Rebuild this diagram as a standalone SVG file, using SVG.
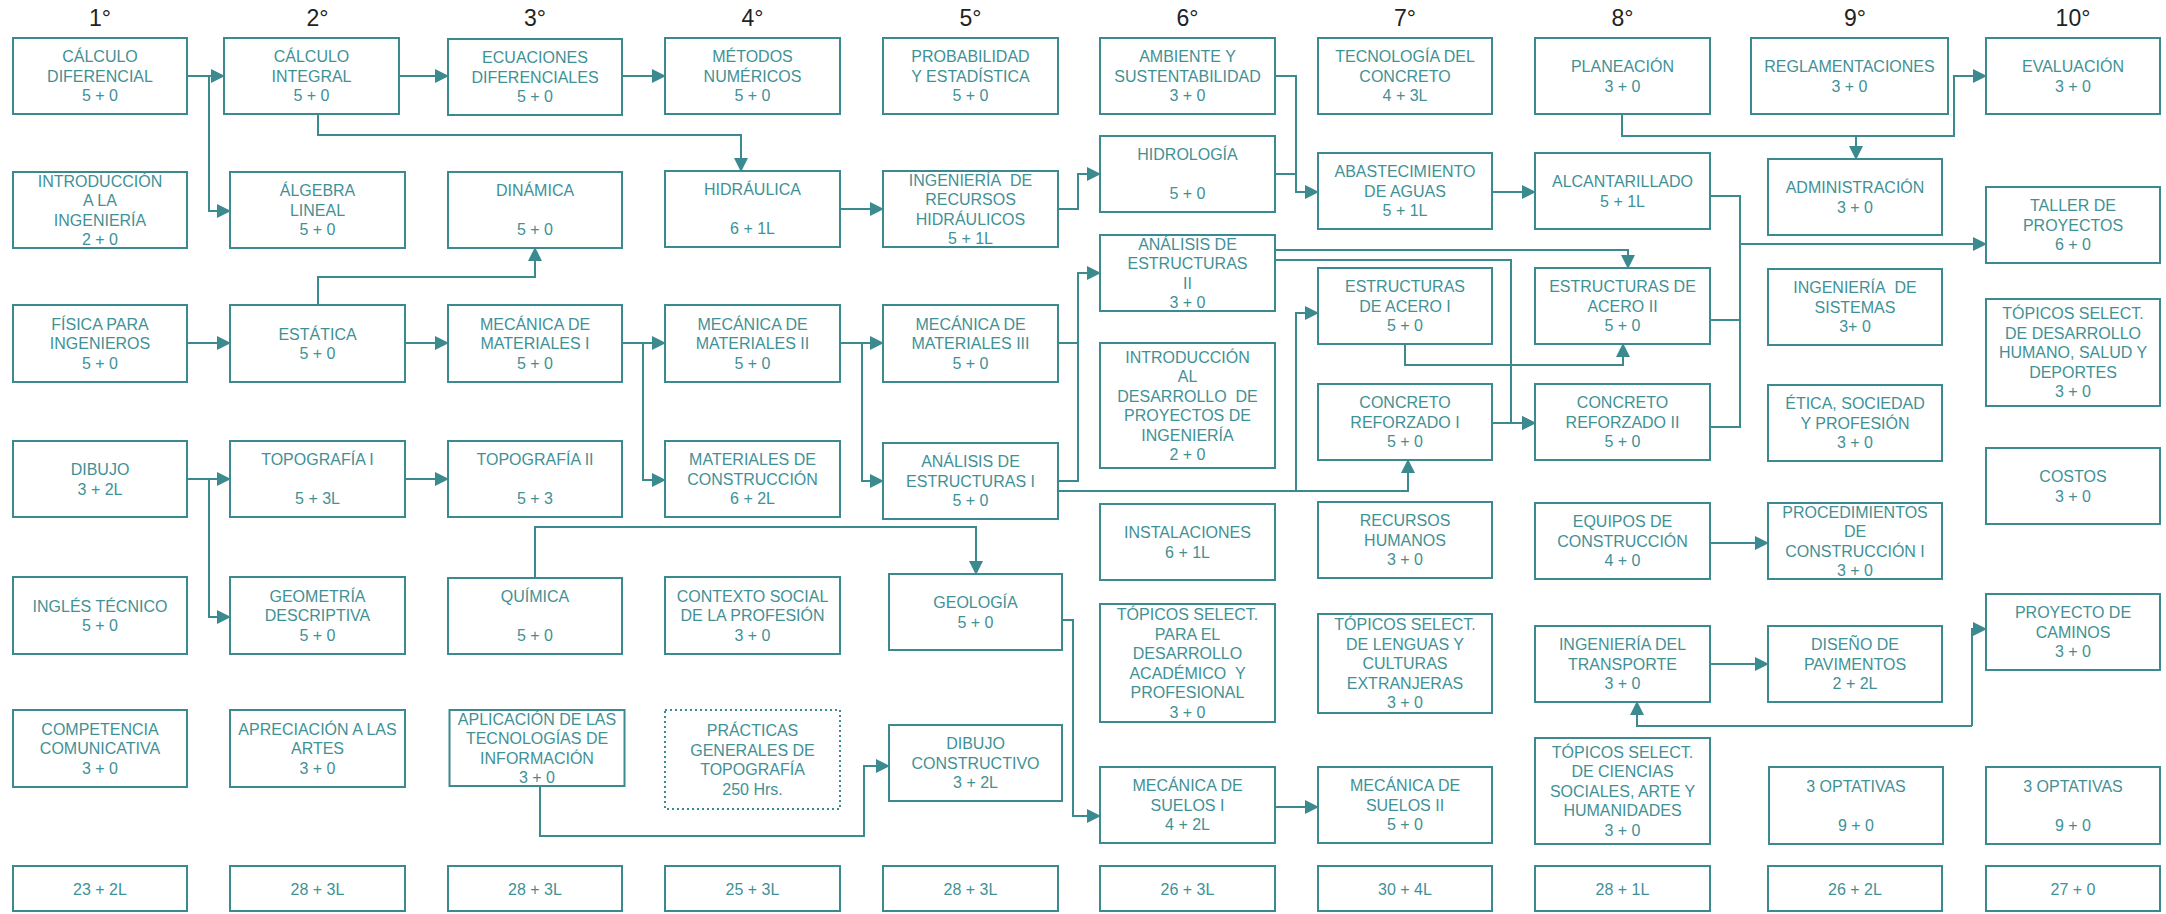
<svg xmlns="http://www.w3.org/2000/svg" width="2166" height="914" viewBox="0 0 2166 914">
<style>
.b{fill:#fff;stroke:#3b8a8f;stroke-width:2}
.d{stroke-dasharray:2 3}
.t{font-family:"Liberation Sans",Arial,sans-serif;font-size:16px;fill:#3f9196;text-anchor:middle}
.h{font-family:"Liberation Sans",Arial,sans-serif;font-size:23px;fill:#222;text-anchor:middle}
.c{fill:none;stroke:#3b8a8f;stroke-width:2}
.a{marker-end:url(#ar)}
</style>
<defs>
<marker id="ar" markerWidth="14" markerHeight="14" refX="13" refY="7" orient="auto" markerUnits="userSpaceOnUse"><path d="M0,0 L14,7 L0,14 z" fill="#3b8a8f"/></marker>
</defs>
<rect width="2166" height="914" fill="#fff"/>
<g id="headers">
<text class="h" x="100" y="26">1°</text>
<text class="h" x="317.5" y="26">2°</text>
<text class="h" x="535" y="26">3°</text>
<text class="h" x="752.5" y="26">4°</text>
<text class="h" x="970.5" y="26">5°</text>
<text class="h" x="1187.5" y="26">6°</text>
<text class="h" x="1405" y="26">7°</text>
<text class="h" x="1622.5" y="26">8°</text>
<text class="h" x="1855" y="26">9°</text>
<text class="h" x="2073" y="26">10°</text>
</g>
<g id="connectors">
<path class="c a" d="M187,76 H224"/>
<path class="c a" d="M209,76 V211 H230"/>
<path class="c a" d="M398,76 H448"/>
<path class="c a" d="M622,76 H665"/>
<path class="c a" d="M318,114 V135 H741 V171"/>
<path class="c a" d="M318,305 V277 H535 V248"/>
<path class="c a" d="M187,343 H230"/>
<path class="c a" d="M405,343 H448"/>
<path class="c a" d="M622,343 H665"/>
<path class="c a" d="M643,343 V480 H665"/>
<path class="c a" d="M840,343 H883"/>
<path class="c a" d="M862,343 V481 H883"/>
<path class="c" d="M1058,343 H1078"/>
<path class="c a" d="M1058,481 H1078 V273 H1100"/>
<path class="c a" d="M1058,491 H1408 V460"/>
<path class="c a" d="M1296,491 V313 H1318"/>
<path class="c a" d="M840,209 H883"/>
<path class="c a" d="M1058,209 H1078 V174 H1100"/>
<path class="c a" d="M1275,76 H1296 V192 H1318"/>
<path class="c" d="M1275,174 H1296"/>
<path class="c a" d="M1492,192 H1535"/>
<path class="c" d="M1710,196 H1740 V427 H1710"/>
<path class="c" d="M1710,320 H1740"/>
<path class="c a" d="M1740,244 H1986"/>
<path class="c a" d="M1275,250 H1628 V268"/>
<path class="c a" d="M1275,260 H1511 V423 H1535"/>
<path class="c a" d="M1492,423 H1535"/>
<path class="c a" d="M1405,344 V365 H1623 V344"/>
<path class="c a" d="M1622,114 V136 H1954 V76 H1986"/>
<path class="c a" d="M1856,136 V159"/>
<path class="c a" d="M1710,543 H1768"/>
<path class="c a" d="M1710,664 H1768"/>
<path class="c a" d="M1972,726 H1637 V702"/>
<path class="c a" d="M1972,726 V629 H1986"/>
<path class="c a" d="M535,578 V527 H976 V574"/>
<path class="c a" d="M1062,620 H1073 V816 H1100"/>
<path class="c a" d="M1275,807 H1318"/>
<path class="c a" d="M540,786 V836 H864 V766 H889"/>
<path class="c a" d="M187,479 H230"/>
<path class="c a" d="M209,479 V617 H230"/>
<path class="c a" d="M405,479 H448"/>
</g>
<g id="n_calculo_diferencial"><rect class="b" x="13" y="38" width="174" height="76"/><text class="t" y="62.3"><tspan x="100">CÁLCULO</tspan><tspan x="100" dy="19.5">DIFERENCIAL</tspan><tspan x="100" dy="19.5">5 + 0</tspan></text></g>
<g id="n_intro_ingenieria"><rect class="b" x="13" y="172" width="174" height="76"/><text class="t" y="186.5"><tspan x="100">INTRODUCCIÓN</tspan><tspan x="100" dy="19.5">A LA</tspan><tspan x="100" dy="19.5">INGENIERÍA</tspan><tspan x="100" dy="19.5">2 + 0</tspan></text></g>
<g id="n_fisica"><rect class="b" x="13" y="305" width="174" height="77"/><text class="t" y="329.8"><tspan x="100">FÍSICA PARA</tspan><tspan x="100" dy="19.5">INGENIEROS</tspan><tspan x="100" dy="19.5">5 + 0</tspan></text></g>
<g id="n_dibujo"><rect class="b" x="13" y="441" width="174" height="76"/><text class="t" y="475"><tspan x="100">DIBUJO</tspan><tspan x="100" dy="19.5">3 + 2L</tspan></text></g>
<g id="n_ingles"><rect class="b" x="13" y="577" width="174" height="77"/><text class="t" y="611.5"><tspan x="100">INGLÉS TÉCNICO</tspan><tspan x="100" dy="19.5">5 + 0</tspan></text></g>
<g id="n_competencia"><rect class="b" x="13" y="710" width="174" height="77"/><text class="t" y="734.8"><tspan x="100">COMPETENCIA</tspan><tspan x="100" dy="19.5">COMUNICATIVA</tspan><tspan x="100" dy="19.5">3 + 0</tspan></text></g>

<g id="n_calculo_integral"><rect class="b" x="224" y="38" width="175" height="76"/><text class="t" y="62.3"><tspan x="311.5">CÁLCULO</tspan><tspan x="311.5" dy="19.5">INTEGRAL</tspan><tspan x="311.5" dy="19.5">5 + 0</tspan></text></g>
<g id="n_algebra"><rect class="b" x="230" y="172" width="175" height="76"/><text class="t" y="196.3"><tspan x="317.5">ÁLGEBRA</tspan><tspan x="317.5" dy="19.5">LINEAL</tspan><tspan x="317.5" dy="19.5">5 + 0</tspan></text></g>
<g id="n_estatica"><rect class="b" x="230" y="305" width="175" height="77"/><text class="t" y="339.5"><tspan x="317.5">ESTÁTICA</tspan><tspan x="317.5" dy="19.5">5 + 0</tspan></text></g>
<g id="n_topografia1"><rect class="b" x="230" y="441" width="175" height="76"/><text class="t" y="465.3"><tspan x="317.5">TOPOGRAFÍA I</tspan><tspan x="317.5" dy="39">5 + 3L</tspan></text></g>
<g id="n_geometria"><rect class="b" x="230" y="577" width="175" height="77"/><text class="t" y="601.8"><tspan x="317.5">GEOMETRÍA</tspan><tspan x="317.5" dy="19.5">DESCRIPTIVA</tspan><tspan x="317.5" dy="19.5">5 + 0</tspan></text></g>
<g id="n_apreciacion"><rect class="b" x="230" y="710" width="175" height="77"/><text class="t" y="734.8"><tspan x="317.5">APRECIACIÓN A LAS</tspan><tspan x="317.5" dy="19.5">ARTES</tspan><tspan x="317.5" dy="19.5">3 + 0</tspan></text></g>

<g id="n_ecuaciones"><rect class="b" x="448" y="39" width="174" height="76"/><text class="t" y="63.3"><tspan x="535">ECUACIONES</tspan><tspan x="535" dy="19.5">DIFERENCIALES</tspan><tspan x="535" dy="19.5">5 + 0</tspan></text></g>
<g id="n_dinamica"><rect class="b" x="448" y="172" width="174" height="76"/><text class="t" y="196.3"><tspan x="535">DINÁMICA</tspan><tspan x="535" dy="39">5 + 0</tspan></text></g>
<g id="n_mecanica1"><rect class="b" x="448" y="305" width="174" height="77"/><text class="t" y="329.8"><tspan x="535">MECÁNICA DE</tspan><tspan x="535" dy="19.5">MATERIALES I</tspan><tspan x="535" dy="19.5">5 + 0</tspan></text></g>
<g id="n_topografia2"><rect class="b" x="448" y="441" width="174" height="76"/><text class="t" y="465.3"><tspan x="535">TOPOGRAFÍA II</tspan><tspan x="535" dy="39">5 + 3</tspan></text></g>
<g id="n_quimica"><rect class="b" x="448" y="578" width="174" height="76"/><text class="t" y="602.3"><tspan x="535">QUÍMICA</tspan><tspan x="535" dy="39">5 + 0</tspan></text></g>
<g id="n_aplicacion"><rect class="b" x="449.5" y="710" width="175" height="76"/><text class="t" y="724.5"><tspan x="537">APLICACIÓN DE LAS</tspan><tspan x="537" dy="19.5">TECNOLOGÍAS DE</tspan><tspan x="537" dy="19.5">INFORMACIÓN</tspan><tspan x="537" dy="19.5">3 + 0</tspan></text></g>

<g id="n_metodos"><rect class="b" x="665" y="38" width="175" height="76"/><text class="t" y="62.3"><tspan x="752.5">MÉTODOS</tspan><tspan x="752.5" dy="19.5">NUMÉRICOS</tspan><tspan x="752.5" dy="19.5">5 + 0</tspan></text></g>
<g id="n_hidraulica"><rect class="b" x="665" y="171" width="175" height="76"/><text class="t" y="195.3"><tspan x="752.5">HIDRÁULICA</tspan><tspan x="752.5" dy="39">6 + 1L</tspan></text></g>
<g id="n_mecanica2"><rect class="b" x="665" y="305" width="175" height="77"/><text class="t" y="329.8"><tspan x="752.5">MECÁNICA DE</tspan><tspan x="752.5" dy="19.5">MATERIALES II</tspan><tspan x="752.5" dy="19.5">5 + 0</tspan></text></g>
<g id="n_materiales"><rect class="b" x="665" y="441" width="175" height="76"/><text class="t" y="465.3"><tspan x="752.5">MATERIALES DE</tspan><tspan x="752.5" dy="19.5">CONSTRUCCIÓN</tspan><tspan x="752.5" dy="19.5">6 + 2L</tspan></text></g>
<g id="n_contexto"><rect class="b" x="665" y="577" width="175" height="77"/><text class="t" y="601.8"><tspan x="752.5">CONTEXTO SOCIAL</tspan><tspan x="752.5" dy="19.5">DE LA PROFESIÓN</tspan><tspan x="752.5" dy="19.5">3 + 0</tspan></text></g>
<g id="n_practicas"><rect class="b d" x="665" y="710" width="175" height="99"/><text class="t" y="736"><tspan x="752.5">PRÁCTICAS</tspan><tspan x="752.5" dy="19.5">GENERALES DE</tspan><tspan x="752.5" dy="19.5">TOPOGRAFÍA</tspan><tspan x="752.5" dy="19.5">250 Hrs.</tspan></text></g>

<g id="n_probabilidad"><rect class="b" x="883" y="38" width="175" height="76"/><text class="t" y="62.3"><tspan x="970.5">PROBABILIDAD</tspan><tspan x="970.5" dy="19.5">Y ESTADÍSTICA</tspan><tspan x="970.5" dy="19.5">5 + 0</tspan></text></g>
<g id="n_recursos_hidraulicos"><rect class="b" x="883" y="171" width="175" height="76"/><text class="t" y="185.5"><tspan x="970.5">INGENIERÍA&#160; DE</tspan><tspan x="970.5" dy="19.5">RECURSOS</tspan><tspan x="970.5" dy="19.5">HIDRÁULICOS</tspan><tspan x="970.5" dy="19.5">5 + 1L</tspan></text></g>
<g id="n_mecanica3"><rect class="b" x="883" y="305" width="175" height="77"/><text class="t" y="329.8"><tspan x="970.5">MECÁNICA DE</tspan><tspan x="970.5" dy="19.5">MATERIALES III</tspan><tspan x="970.5" dy="19.5">5 + 0</tspan></text></g>
<g id="n_analisis1"><rect class="b" x="883" y="443" width="175" height="76"/><text class="t" y="467.3"><tspan x="970.5">ANÁLISIS DE</tspan><tspan x="970.5" dy="19.5">ESTRUCTURAS I</tspan><tspan x="970.5" dy="19.5">5 + 0</tspan></text></g>
<g id="n_geologia"><rect class="b" x="889" y="574" width="173" height="76"/><text class="t" y="608"><tspan x="975.5">GEOLOGÍA</tspan><tspan x="975.5" dy="19.5">5 + 0</tspan></text></g>
<g id="n_dibujo_constructivo"><rect class="b" x="889" y="725" width="173" height="76"/><text class="t" y="749.3"><tspan x="975.5">DIBUJO</tspan><tspan x="975.5" dy="19.5">CONSTRUCTIVO</tspan><tspan x="975.5" dy="19.5">3 + 2L</tspan></text></g>

<g id="n_ambiente"><rect class="b" x="1100" y="38" width="175" height="76"/><text class="t" y="62.3"><tspan x="1187.5">AMBIENTE Y</tspan><tspan x="1187.5" dy="19.5">SUSTENTABILIDAD</tspan><tspan x="1187.5" dy="19.5">3 + 0</tspan></text></g>
<g id="n_hidrologia"><rect class="b" x="1100" y="136" width="175" height="76"/><text class="t" y="160.3"><tspan x="1187.5">HIDROLOGÍA</tspan><tspan x="1187.5" dy="39">5 + 0</tspan></text></g>
<g id="n_analisis2"><rect class="b" x="1100" y="235" width="175" height="76"/><text class="t" y="249.5"><tspan x="1187.5">ANÁLISIS DE</tspan><tspan x="1187.5" dy="19.5">ESTRUCTURAS</tspan><tspan x="1187.5" dy="19.5">II</tspan><tspan x="1187.5" dy="19.5">3 + 0</tspan></text></g>
<g id="n_intro_desarrollo"><rect class="b" x="1100" y="343" width="175" height="125"/><text class="t" y="362.5"><tspan x="1187.5">INTRODUCCIÓN</tspan><tspan x="1187.5" dy="19.5">AL</tspan><tspan x="1187.5" dy="19.5">DESARROLLO&#160; DE</tspan><tspan x="1187.5" dy="19.5">PROYECTOS DE</tspan><tspan x="1187.5" dy="19.5">INGENIERÍA</tspan><tspan x="1187.5" dy="19.5">2 + 0</tspan></text></g>
<g id="n_instalaciones"><rect class="b" x="1100" y="504" width="175" height="76"/><text class="t" y="538"><tspan x="1187.5">INSTALACIONES</tspan><tspan x="1187.5" dy="19.5">6 + 1L</tspan></text></g>
<g id="n_topicos_academico"><rect class="b" x="1100" y="604" width="175" height="118"/><text class="t" y="620"><tspan x="1187.5">TÓPICOS SELECT.</tspan><tspan x="1187.5" dy="19.5">PARA EL</tspan><tspan x="1187.5" dy="19.5">DESARROLLO</tspan><tspan x="1187.5" dy="19.5">ACADÉMICO&#160; Y</tspan><tspan x="1187.5" dy="19.5">PROFESIONAL</tspan><tspan x="1187.5" dy="19.5">3 + 0</tspan></text></g>
<g id="n_suelos1"><rect class="b" x="1100" y="767" width="175" height="76"/><text class="t" y="791.3"><tspan x="1187.5">MECÁNICA DE</tspan><tspan x="1187.5" dy="19.5">SUELOS I</tspan><tspan x="1187.5" dy="19.5">4 + 2L</tspan></text></g>

<g id="n_tecnologia"><rect class="b" x="1318" y="38" width="174" height="76"/><text class="t" y="62.3"><tspan x="1405">TECNOLOGÍA DEL</tspan><tspan x="1405" dy="19.5">CONCRETO</tspan><tspan x="1405" dy="19.5">4 + 3L</tspan></text></g>
<g id="n_abastecimiento"><rect class="b" x="1318" y="153" width="174" height="76"/><text class="t" y="177.3"><tspan x="1405">ABASTECIMIENTO</tspan><tspan x="1405" dy="19.5">DE AGUAS</tspan><tspan x="1405" dy="19.5">5 + 1L</tspan></text></g>
<g id="n_acero1"><rect class="b" x="1318" y="268" width="174" height="76"/><text class="t" y="292.3"><tspan x="1405">ESTRUCTURAS</tspan><tspan x="1405" dy="19.5">DE ACERO I</tspan><tspan x="1405" dy="19.5">5 + 0</tspan></text></g>
<g id="n_concreto1"><rect class="b" x="1318" y="384" width="174" height="76"/><text class="t" y="408.3"><tspan x="1405">CONCRETO</tspan><tspan x="1405" dy="19.5">REFORZADO I</tspan><tspan x="1405" dy="19.5">5 + 0</tspan></text></g>
<g id="n_recursos_humanos"><rect class="b" x="1318" y="502" width="174" height="76"/><text class="t" y="526.3"><tspan x="1405">RECURSOS</tspan><tspan x="1405" dy="19.5">HUMANOS</tspan><tspan x="1405" dy="19.5">3 + 0</tspan></text></g>
<g id="n_topicos_lenguas"><rect class="b" x="1318" y="614" width="174" height="99"/><text class="t" y="630.3"><tspan x="1405">TÓPICOS SELECT.</tspan><tspan x="1405" dy="19.5">DE LENGUAS Y</tspan><tspan x="1405" dy="19.5">CULTURAS</tspan><tspan x="1405" dy="19.5">EXTRANJERAS</tspan><tspan x="1405" dy="19.5">3 + 0</tspan></text></g>
<g id="n_suelos2"><rect class="b" x="1318" y="767" width="174" height="76"/><text class="t" y="791.3"><tspan x="1405">MECÁNICA DE</tspan><tspan x="1405" dy="19.5">SUELOS II</tspan><tspan x="1405" dy="19.5">5 + 0</tspan></text></g>

<g id="n_planeacion"><rect class="b" x="1535" y="38" width="175" height="76"/><text class="t" y="72"><tspan x="1622.5">PLANEACIÓN</tspan><tspan x="1622.5" dy="19.5">3 + 0</tspan></text></g>
<g id="n_alcantarillado"><rect class="b" x="1535" y="153" width="175" height="76"/><text class="t" y="187"><tspan x="1622.5">ALCANTARILLADO</tspan><tspan x="1622.5" dy="19.5">5 + 1L</tspan></text></g>
<g id="n_acero2"><rect class="b" x="1535" y="268" width="175" height="76"/><text class="t" y="292.3"><tspan x="1622.5">ESTRUCTURAS DE</tspan><tspan x="1622.5" dy="19.5">ACERO II</tspan><tspan x="1622.5" dy="19.5">5 + 0</tspan></text></g>
<g id="n_concreto2"><rect class="b" x="1535" y="384" width="175" height="76"/><text class="t" y="408.3"><tspan x="1622.5">CONCRETO</tspan><tspan x="1622.5" dy="19.5">REFORZADO II</tspan><tspan x="1622.5" dy="19.5">5 + 0</tspan></text></g>
<g id="n_equipos"><rect class="b" x="1535" y="503" width="175" height="76"/><text class="t" y="527.3"><tspan x="1622.5">EQUIPOS DE</tspan><tspan x="1622.5" dy="19.5">CONSTRUCCIÓN</tspan><tspan x="1622.5" dy="19.5">4 + 0</tspan></text></g>
<g id="n_transporte"><rect class="b" x="1535" y="626" width="175" height="76"/><text class="t" y="650.3"><tspan x="1622.5">INGENIERÍA DEL</tspan><tspan x="1622.5" dy="19.5">TRANSPORTE</tspan><tspan x="1622.5" dy="19.5">3 + 0</tspan></text></g>
<g id="n_topicos_sociales"><rect class="b" x="1535" y="738" width="175" height="106"/><text class="t" y="757.8"><tspan x="1622.5">TÓPICOS SELECT.</tspan><tspan x="1622.5" dy="19.5">DE CIENCIAS</tspan><tspan x="1622.5" dy="19.5">SOCIALES, ARTE Y</tspan><tspan x="1622.5" dy="19.5">HUMANIDADES</tspan><tspan x="1622.5" dy="19.5">3 + 0</tspan></text></g>

<g id="n_reglamentaciones"><rect class="b" x="1751" y="38" width="197" height="76"/><text class="t" y="72"><tspan x="1849.5">REGLAMENTACIONES</tspan><tspan x="1849.5" dy="19.5">3 + 0</tspan></text></g>
<g id="n_administracion"><rect class="b" x="1768" y="159" width="174" height="76"/><text class="t" y="193"><tspan x="1855">ADMINISTRACIÓN</tspan><tspan x="1855" dy="19.5">3 + 0</tspan></text></g>
<g id="n_sistemas"><rect class="b" x="1768" y="269" width="174" height="76"/><text class="t" y="293.3"><tspan x="1855">INGENIERÍA&#160; DE</tspan><tspan x="1855" dy="19.5">SISTEMAS</tspan><tspan x="1855" dy="19.5">3+ 0</tspan></text></g>
<g id="n_etica"><rect class="b" x="1768" y="385" width="174" height="76"/><text class="t" y="409.3"><tspan x="1855">ÉTICA, SOCIEDAD</tspan><tspan x="1855" dy="19.5">Y PROFESIÓN</tspan><tspan x="1855" dy="19.5">3 + 0</tspan></text></g>
<g id="n_procedimientos"><rect class="b" x="1768" y="503" width="174" height="76"/><text class="t" y="517.5"><tspan x="1855">PROCEDIMIENTOS</tspan><tspan x="1855" dy="19.5">DE</tspan><tspan x="1855" dy="19.5">CONSTRUCCIÓN I</tspan><tspan x="1855" dy="19.5">3 + 0</tspan></text></g>
<g id="n_pavimentos"><rect class="b" x="1768" y="626" width="174" height="76"/><text class="t" y="650.3"><tspan x="1855">DISEÑO DE</tspan><tspan x="1855" dy="19.5">PAVIMENTOS</tspan><tspan x="1855" dy="19.5">2 + 2L</tspan></text></g>
<g id="n_optativas9"><rect class="b" x="1769" y="767" width="174" height="77"/><text class="t" y="791.8"><tspan x="1856">3 OPTATIVAS</tspan><tspan x="1856" dy="39">9 + 0</tspan></text></g>

<g id="n_evaluacion"><rect class="b" x="1986" y="38" width="174" height="76"/><text class="t" y="72"><tspan x="2073">EVALUACIÓN</tspan><tspan x="2073" dy="19.5">3 + 0</tspan></text></g>
<g id="n_taller"><rect class="b" x="1986" y="187" width="174" height="76"/><text class="t" y="211.3"><tspan x="2073">TALLER DE</tspan><tspan x="2073" dy="19.5">PROYECTOS</tspan><tspan x="2073" dy="19.5">6 + 0</tspan></text></g>
<g id="n_topicos_humano"><rect class="b" x="1986" y="299" width="174" height="107"/><text class="t" y="319.3"><tspan x="2073">TÓPICOS SELECT.</tspan><tspan x="2073" dy="19.5">DE DESARROLLO</tspan><tspan x="2073" dy="19.5">HUMANO, SALUD Y</tspan><tspan x="2073" dy="19.5">DEPORTES</tspan><tspan x="2073" dy="19.5">3 + 0</tspan></text></g>
<g id="n_costos"><rect class="b" x="1986" y="448" width="174" height="76"/><text class="t" y="482"><tspan x="2073">COSTOS</tspan><tspan x="2073" dy="19.5">3 + 0</tspan></text></g>
<g id="n_caminos"><rect class="b" x="1986" y="594" width="174" height="76"/><text class="t" y="618.3"><tspan x="2073">PROYECTO DE</tspan><tspan x="2073" dy="19.5">CAMINOS</tspan><tspan x="2073" dy="19.5">3 + 0</tspan></text></g>
<g id="n_optativas10"><rect class="b" x="1986" y="767" width="174" height="77"/><text class="t" y="791.8"><tspan x="2073">3 OPTATIVAS</tspan><tspan x="2073" dy="39">9 + 0</tspan></text></g>

<g id="totals">
<rect class="b" x="13" y="866" width="174" height="45"/><text class="t" x="100" y="895">23 + 2L</text>
<rect class="b" x="230" y="866" width="175" height="45"/><text class="t" x="317.5" y="895">28 + 3L</text>
<rect class="b" x="448" y="866" width="174" height="45"/><text class="t" x="535" y="895">28 + 3L</text>
<rect class="b" x="665" y="866" width="175" height="45"/><text class="t" x="752.5" y="895">25 + 3L</text>
<rect class="b" x="883" y="866" width="175" height="45"/><text class="t" x="970.5" y="895">28 + 3L</text>
<rect class="b" x="1100" y="866" width="175" height="45"/><text class="t" x="1187.5" y="895">26 + 3L</text>
<rect class="b" x="1318" y="866" width="174" height="45"/><text class="t" x="1405" y="895">30 + 4L</text>
<rect class="b" x="1535" y="866" width="175" height="45"/><text class="t" x="1622.5" y="895">28 + 1L</text>
<rect class="b" x="1768" y="866" width="174" height="45"/><text class="t" x="1855" y="895">26 + 2L</text>
<rect class="b" x="1986" y="866" width="174" height="45"/><text class="t" x="2073" y="895">27 + 0</text>
</g>
</svg>
